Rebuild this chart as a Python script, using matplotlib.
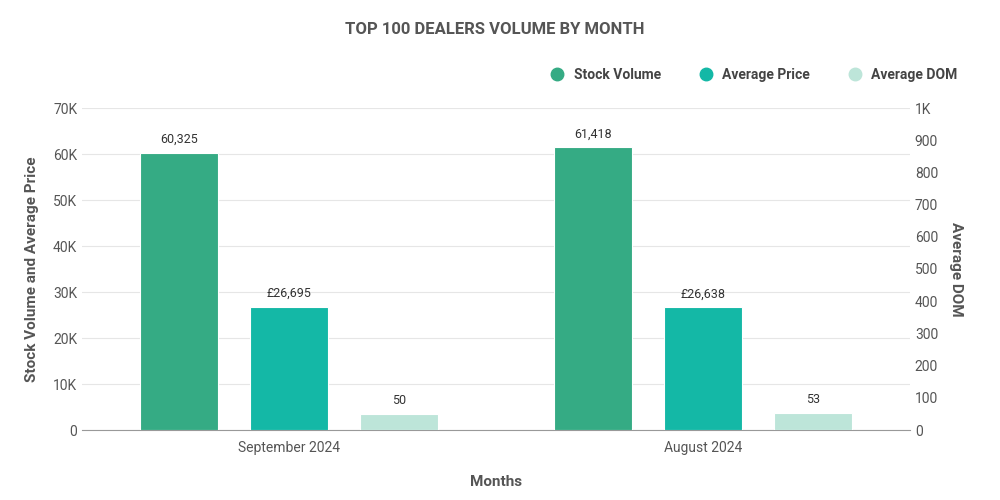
import matplotlib
matplotlib.use("Agg")
import matplotlib.pyplot as plt
from matplotlib.ticker import FuncFormatter

plt.rcParams["font.family"] = "Roboto"

months = ["September 2024", "August 2024"]
stock_volume = [60325, 61418]
average_price = [26695, 26638]
average_dom = [50, 53]
series_names = ["Stock Volume", "Average Price", "Average DOM"]
colors = ["#35AB84", "#14B8A6", "#BDE5D9"]

fig = plt.figure(figsize=(10, 5), dpi=100)
ax = fig.add_axes([0.082, 0.14, 0.828, 0.644])
ax2 = ax.twinx()

x = range(len(months))
off = 0.266
w = 0.19
b1 = ax.bar([i - off for i in x], stock_volume, w, color=colors[0], edgecolor="white", linewidth=0.8, zorder=3)
b2 = ax.bar(list(x), average_price, w, color=colors[1], edgecolor="white", linewidth=0.8, zorder=3)
b3 = ax2.bar([i + off for i in x], average_dom, w, color=colors[2], edgecolor="white", linewidth=0.8, zorder=3)

for bars, fmt, a in [(b1, "{:,}", ax), (b2, "£{:,}", ax), (b3, "{}", ax2)]:
    for r in bars:
        h = r.get_height()
        a.annotate(fmt.format(int(h)), (r.get_x() + r.get_width() / 2, h), xytext=(0, 5),
                   textcoords="offset points", ha="center", va="bottom", fontsize=9, color="#333333")

ax.set_xlim(-0.5, 1.5)
ax.set_ylim(0, 70000)
ax2.set_ylim(0, 1000)
ax.set_yticks(range(0, 70001, 10000))
ax2.set_yticks(range(0, 1001, 100))
ax.yaxis.set_major_formatter(FuncFormatter(lambda v, p: "0" if v == 0 else f"{int(v/1000)}K"))
ax2.yaxis.set_major_formatter(FuncFormatter(lambda v, p: "1K" if v == 1000 else f"{int(v)}"))
ax.set_xticks(list(x))
ax.set_xticklabels(months)
ax.grid(axis="y", color="#e6e6e6", linewidth=0.8, zorder=0)
ax.set_axisbelow(True)
for a in (ax, ax2):
    for s in a.spines.values():
        s.set_visible(False)
    a.tick_params(length=0, labelsize=10, colors="#555555")
ax.spines["bottom"].set_visible(True)
ax.spines["bottom"].set_color("#999999")
ax.tick_params(axis="x", pad=8)

ax.set_xlabel("Months", fontsize=11, fontweight="bold", color="#555555", labelpad=14)
ax.set_ylabel("Stock Volume and Average Price", fontsize=11, fontweight="bold", color="#555555", labelpad=10)
ax2.set_ylabel("Average DOM", fontsize=11, fontweight="bold", color="#555555", rotation=270, labelpad=18)

fig.text(0.495, 0.94, "TOP 100 DEALERS VOLUME BY MONTH", ha="center", va="center",
         fontsize=12, fontweight="bold", color="#555555")

handles = [plt.Line2D([], [], marker="o", linestyle="", markersize=9, color=c) for c in colors]
fig.legend(handles, series_names, loc="center right", bbox_to_anchor=(0.97, 0.85), ncol=3,
           frameon=False, fontsize=10, handletextpad=0.2, columnspacing=2.2,
           labelcolor="#444444", prop={"weight": "bold", "size": 10})

fig.savefig("out.png", dpi=100)
